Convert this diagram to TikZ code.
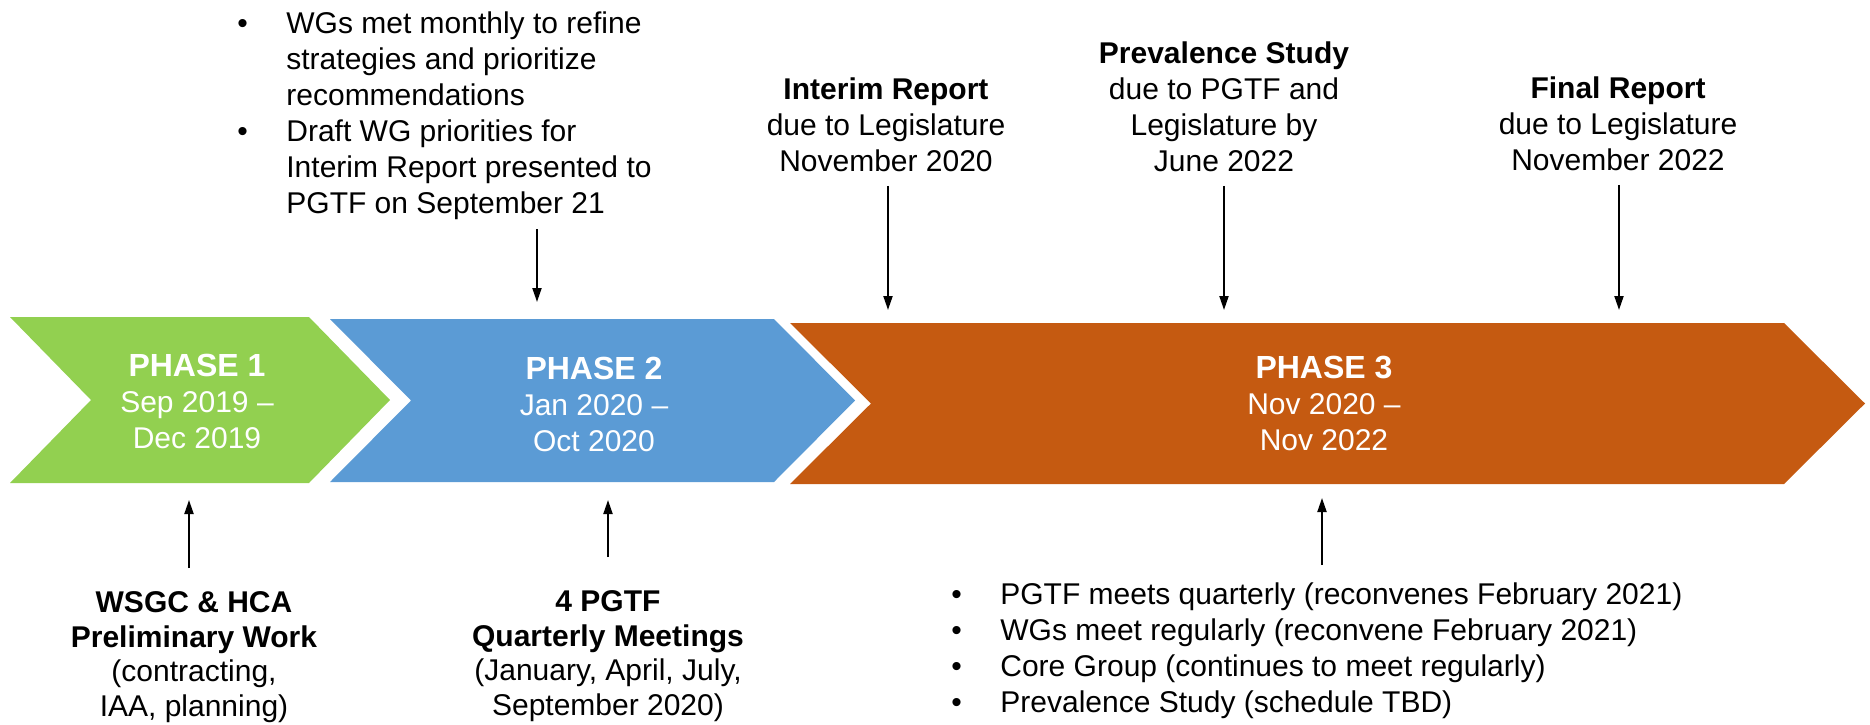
\documentclass[tikz,border=0pt]{standalone}
\usepackage{fontspec}
\setmainfont{Liberation Sans}
\usepackage{tikz}
\usetikzlibrary{arrows.meta}
\usepackage{xcolor}

\definecolor{phgreen}{HTML}{92D050}
\definecolor{phblue}{HTML}{5B9BD5}
\definecolor{phorange}{HTML}{C55A11}

\newcommand{\tlbullet}{\makebox[24.5pt][l]{\textbullet}}

\tikzset{
    txt/.style={inner sep=0pt, align=center, font=\fontsize{15}{18}\selectfont},
    lowtxt/.style={txt, font=\fontsize{15}{17.4}\selectfont},
    phasetxt/.style={txt, text=white},
    arr/.style={-{Triangle[length=7pt,width=4.5pt]}, line width=1pt},
}

\begin{document}
\begin{tikzpicture}[x=0.5pt, y=-0.5pt]
        \useasboundingbox (0,0) rectangle (1870,724);

        % Phase chevrons
        \foreach \xl/\xr/\yt/\yb/\col in {10/309/317/483/phgreen, 330/774/319/482/phblue, 790/1784/323/484/phorange} {
            \fill[\col] (\xl,\yt) -- (\xr,\yt) -- ({\xr+81},{(\yt+\yb)/2}) -- (\xr,\yb)
                -- (\xl,\yb) -- ({\xl+81},{(\yt+\yb)/2}) -- cycle;
        }

        % Phase labels
        \node[phasetxt, anchor=north] (ph1) at (197,354) {{\fontsize{16}{18}\selectfont\bfseries PHASE 1}\\Sep 2019 –\\Dec 2019};
        \node[phasetxt, anchor=north] (ph2) at (594,357) {{\fontsize{16}{18}\selectfont\bfseries PHASE 2}\\Jan 2020 –\\Oct 2020};
        \node[phasetxt, anchor=north] (ph3) at (1324,356) {{\fontsize{16}{18}\selectfont\bfseries PHASE 3}\\Nov 2020 –\\Nov 2022};

        % Milestones above
        \node[txt, anchor=north west] (wgwork) at (237,7.5) {\begin{tabular}{@{}l@{}l@{}}
            \tlbullet & WGs met monthly to refine\\
                      & strategies and prioritize\\
                      & recommendations\\
            \tlbullet & Draft WG priorities for\\
                      & Interim Report presented to\\
                      & PGTF on September 21
        \end{tabular}};
        \node[txt, anchor=north] (interim) at (886,77) {\textbf{Interim Report}\\due to Legislature\\November 2020};
        \node[txt, anchor=north] (prev) at (1224,41) {\textbf{Prevalence Study}\\due to PGTF and\\Legislature by\\June 2022};
        \node[txt, anchor=north] (final) at (1618,76) {\textbf{Final Report}\\due to Legislature\\November 2022};

        % Activities below
        \node[lowtxt, anchor=north] (prelim) at (194,591) {\textbf{WSGC \& HCA}\\\textbf{Preliminary Work}\\(contracting,\\IAA, planning)};
        \node[lowtxt, anchor=north] (quarterly) at (608,590) {\textbf{4 PGTF}\\\textbf{Quarterly Meetings}\\(January, April, July,\\September 2020)};
        \node[txt, anchor=north west] (ongoing) at (951,579) {\begin{tabular}{@{}l@{}l@{}}
            \tlbullet & PGTF meets quarterly (reconvenes February 2021)\\
            \tlbullet & WGs meet regularly (reconvene February 2021)\\
            \tlbullet & Core Group (continues to meet regularly)\\
            \tlbullet & Prevalence Study (schedule TBD)
        \end{tabular}};

        % Arrow tips
        \coordinate (tip-wg) at (537,302);
        \coordinate (tip-int) at (888,310);
        \coordinate (tip-prev) at (1224,310);
        \coordinate (tip-fin) at (1619,310);
        \coordinate (tip-prelim) at (189,500);
        \coordinate (tip-qm) at (608,500);
        \coordinate (tip-on) at (1322,498);

        % Arrows
        \draw[arr, shorten <=2.5pt] (wgwork.south -| tip-wg) -- (tip-wg);
        \draw[arr, shorten <=7pt] (interim.south -| tip-int) -- (tip-int);
        \draw[arr, shorten <=7pt] (prev.south -| tip-prev) -- (tip-prev);
        \draw[arr, shorten <=7pt] (final.south -| tip-fin) -- (tip-fin);
        \draw[arr, shorten <=11.5pt] (prelim.north -| tip-prelim) -- (tip-prelim);
        \draw[arr, shorten <=16.5pt] (quarterly.north -| tip-qm) -- (tip-qm);
        \draw[arr, shorten <=7pt] (ongoing.north -| tip-on) -- (tip-on);
    \end{tikzpicture}
\end{document}
